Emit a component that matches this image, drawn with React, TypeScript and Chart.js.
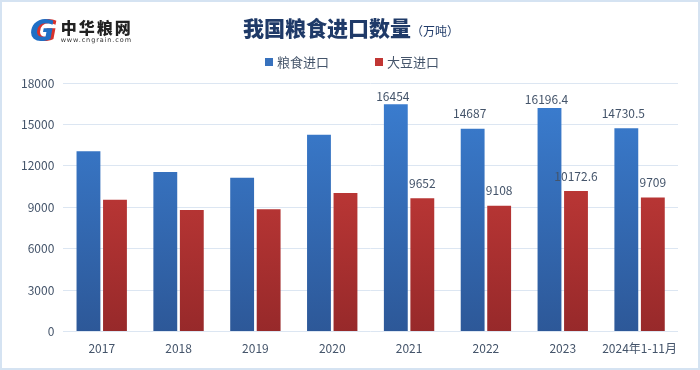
import React, { useEffect, useRef } from "react";
import { Chart, registerables } from "chart.js";

Chart.register(...registerables);

const categories = ["2017", "2018", "2019", "2020", "2021", "2022", "2023", "2024年1-11月"];
const grainImports = [13062, 11555, 11144, 14262, 16454, 14687, 16196.4, 14730.5];
const soyImports = [9553, 8803, 8851, 10033, 9652, 9108, 10172.6, 9709];
const grainLabels = ["", "", "", "", "16454", "14687", "16196.4", "14730.5"];
const soyLabels = ["", "", "", "", "9652", "9108", "10172.6", "9709"];
const yTicks = [0, 3000, 6000, 9000, 12000, 15000, 18000];
const seriesNames = ["粮食进口", "大豆进口"];
const seriesColors = ["#3771bd", "#c13634"];

const FONT = "'Noto Sans CJK SC', 'Noto Sans', sans-serif";
const TEXT = "#44546a";

function grad(ctx: any, top: string, bottom: string) {
  const chart = ctx.chart;
  const area = chart.chartArea;
  if (!area) return top;
  const g = chart.ctx.createLinearGradient(0, area.top, 0, area.bottom);
  g.addColorStop(0, top);
  g.addColorStop(1, bottom);
  return g;
}

const labelPlugin = {
  id: "barLabels",
  afterDatasetsDraw(chart: any) {
    const ctx = chart.ctx;
    const sets = [grainLabels, soyLabels];
    ctx.save();
    ctx.font = `12px ${FONT}`;
    ctx.fillStyle = TEXT;
    ctx.textAlign = "center";
    ctx.textBaseline = "middle";
    sets.forEach((labels, di) => {
      const meta = chart.getDatasetMeta(di);
      meta.data.forEach((bar: any, i: number) => {
        const t = labels[i];
        if (!t) return;
        let y = bar.y - 15;
        if (y < chart.chartArea.top + 15) y = bar.y - 8;
        ctx.fillText(t, bar.x - (di === 0 ? 3 : 0), y);
      });
    });
    ctx.restore();
  },
};

export default function App() {
  const ref = useRef<HTMLCanvasElement | null>(null);
  useEffect(() => {
    if (!ref.current) return;
    const chart = new Chart(ref.current, {
      type: "bar",
      data: {
        labels: categories,
        datasets: [
          {
            label: seriesNames[0],
            data: grainImports,
            backgroundColor: (c: any) => grad(c, "#3b7fd3", "#2d5898"),
            borderWidth: 0,
            categoryPercentage: 0.69,
            barPercentage: 0.9,
          },
          {
            label: seriesNames[1],
            data: soyImports,
            backgroundColor: (c: any) => grad(c, "#d3403d", "#97292a"),
            borderWidth: 0,
            categoryPercentage: 0.69,
            barPercentage: 0.9,
          },
        ],
      },
      options: {
        animation: false,
        responsive: false,
        maintainAspectRatio: false,
        layout: { padding: { top: 81, left: 10, right: 20, bottom: 10 } },
        plugins: {
          legend: { display: false },
          tooltip: { enabled: false },
        },
        scales: {
          x: {
            grid: { display: false },
            border: { display: false },
            ticks: { color: TEXT, font: { size: 12, family: FONT }, padding: 2, maxRotation: 0, autoSkip: false },
          },
          y: {
            min: 0,
            max: 18000,
            afterBuildTicks: (axis: any) => {
              axis.ticks = yTicks.map((v) => ({ value: v }));
            },
            grid: { color: "#dce6f2", lineWidth: 1, drawTicks: false },
            border: { display: false },
            ticks: {
              color: TEXT,
              font: { size: 12, family: FONT },
              padding: 9,
              callback: (v: any) => String(v),
            },
          },
        },
      },
      plugins: [labelPlugin],
    } as any);
    return () => chart.destroy();
  }, []);

  return (
    <div
      style={{
        position: "fixed",
        left: 0,
        top: 0,
        width: 700,
        height: 370,
        boxSizing: "border-box",
        border: "2px solid #d5e3f2",
        background: "#fff",
        fontFamily: FONT,
      }}
    >
      <canvas ref={ref} width={696} height={366} style={{ display: "block" }} />
      <div style={{ position: "absolute", left: 28, top: 14, display: "flex", alignItems: "center" }}>
        <span
          style={{
            fontFamily: "'DejaVu Sans', sans-serif",
            fontWeight: 900,
            fontStyle: "italic",
            fontSize: 30,
            lineHeight: "30px",
            color: "#1f6fc5",
            textShadow: "3px 0 0 #d8322c",
          }}
        >
          G
        </span>
        <div style={{ marginLeft: 6, display: "flex", flexDirection: "column" }}>
          <span style={{ fontSize: 16, fontWeight: 900, color: "#222", letterSpacing: 2, lineHeight: "18px" }}>中华粮网</span>
          <span style={{ fontSize: 6.5, color: "#333", fontFamily: "'DejaVu Sans', sans-serif", letterSpacing: 0.9, lineHeight: "8px" }}>www.cngrain.com</span>
        </div>
      </div>
      <div
        style={{
          position: "absolute",
          left: 241,
          top: 10,
          color: "#1f3a68",
          whiteSpace: "nowrap",
        }}
      >
        <span style={{ fontSize: 21, fontWeight: 900 }}>我国粮食进口数量</span>
        <span style={{ fontSize: 12, marginLeft: 0 }}>（万吨）</span>
      </div>
      <div
        style={{
          position: "absolute",
          left: 263,
          top: 50,
          display: "flex",
          alignItems: "center",
          fontSize: 13,
          color: TEXT,
          whiteSpace: "nowrap",
        }}
      >
        {seriesNames.map((n, i) => (
          <span key={n} style={{ display: "flex", alignItems: "center", marginRight: i === 0 ? 46 : 0 }}>
            <span style={{ display: "inline-block", width: 8, height: 8, background: seriesColors[i], marginRight: 4 }} />
            {n}
          </span>
        ))}
      </div>
    </div>
  );
}
